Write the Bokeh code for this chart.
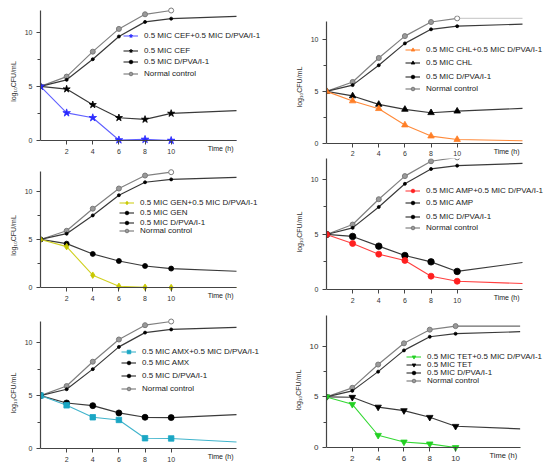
from bokeh.plotting import figure
from bokeh.models import Range1d, FixedTicker, Legend, LegendItem, Label
from bokeh.layouts import row, column
from bokeh.embed import file_html
from bokeh.resources import INLINE

# ---------------- data ----------------
time_h = [0, 2, 4, 6, 8, 10]
time_end = 15
x_ticks = [2, 4, 6, 8, 10]
y_ticks = [0, 5, 10]
y_minor = [2.5, 7.5]

normal_control = [5.0, 5.9, 8.2, 10.3, 11.65, 12.0]
normal_end = 12.0
dpva = [5.0, 5.6, 7.5, 9.6, 10.95, 11.25]
dpva_end = 11.45

cef = [5.0, 4.75, 3.3, 2.1, 1.95, 2.5]
cef_end = 2.75
cef_combo = [5.0, 2.55, 2.1, 0.05, 0.1, 0.0]
cef_combo_end = 0.0

chl = [5.0, 4.56, 3.75, 3.27, 2.95, 3.1]
chl_end = 3.37
chl_combo = [5.0, 4.08, 3.34, 1.77, 0.71, 0.38]
chl_combo_end = 0.26

gen = [5.0, 4.56, 3.49, 2.76, 2.24, 1.97]
gen_end = 1.69
gen_combo = [5.0, 4.25, 1.28, 0.13, 0.03, 0.0]
gen_combo_end = 0.0

amp = [5.0, 4.82, 3.94, 3.09, 2.51, 1.64]
amp_end = 2.45
amp_combo = [5.0, 4.18, 3.21, 2.64, 1.21, 0.75]
amp_combo_end = 0.54

amx = [5.0, 4.3, 4.05, 3.36, 2.95, 2.92]
amx_end = 3.2
amx_combo = [5.0, 4.08, 2.95, 2.7, 0.97, 0.95]
amx_combo_end = 0.62

tet = [5.0, 4.97, 4.0, 3.65, 2.99, 2.1]
tet_end = 1.84
tet_combo = [5.0, 4.27, 1.21, 0.55, 0.36, 0.0]
tet_combo_end = 0.0

drug_names = ["CEF", "CHL", "GEN", "AMP", "AMX", "TET"]
alone_series = [(cef, cef_end), (chl, chl_end), (gen, gen_end),
                (amp, amp_end), (amx, amx_end), (tet, tet_end)]
combo_series = [(cef_combo, cef_combo_end), (chl_combo, chl_combo_end),
                (gen_combo, gen_combo_end), (amp_combo, amp_combo_end),
                (amx_combo, amx_combo_end), (tet_combo, tet_combo_end)]

y_label = "log\u2081\u2080CFU/mL"
x_label = "Time (h)"

# ---------------- styles / layout ----------------
FONT = "Liberation Sans"
styles = {
    "CEF": dict(color="#2a2aff", line="#6060ff", marker="star", size=8, amarker="star", asize=7.5),
    "CHL": dict(color="#ff7f27", line="#ff8a3a", marker="triangle", size=6.5, amarker="triangle", asize=6.5),
    "GEN": dict(color="#c8c800", line="#d0d020", marker="diamond", size=6.5, amarker="circle", asize=5),
    "AMP": dict(color="#ff2020", line="#ff4040", marker="circle", size=6, amarker="circle", asize=6.5),
    "AMX": dict(color="#1aa6c4", line="#40b4cc", marker="square", size=5.5, amarker="circle", asize=6),
    "TET": dict(color="#22d022", line="#33d833", marker="inverted_triangle", size=6.5, amarker="inverted_triangle", asize=6.5),
}

# per panel: fig width/height, left/top border, padding above the y axis top,
# axis lengths in px (x for 15 h, y for ytop), space below y=0, y top, tick font,
# tick-label standoff, normal-control extension colour,
# legend x (from frame left), legend row centres (above y=0)
layouts = {
    "CEF": dict(w=280, h=158, bl=40, bt=4, pad=6, axw=196, axh=130, below=18, ytop=12.0,
                tf="7px", so=4, ext=None, lx=83, rows=[104.3, 89.3, 78.3, 66.7]),
    "GEN": dict(w=280, h=147, bl=40, bt=7, pad=6, axw=196, axh=116, below=18, ytop=12.07,
                tf="7px", so=4, ext=None, lx=79, rows=[84.3, 74.3, 64.7, 57.0]),
    "AMX": dict(w=280, h=165, bl=40, bt=10, pad=6, axw=196, axh=127, below=22, ytop=12.0,
                tf="7px", so=4, ext=None, lx=81, rows=[96.3, 85.3, 72.3, 59.7]),
    "CHL": dict(w=270, h=158, bl=46, bt=15, pad=6, axw=196, axh=122, below=15, ytop=11.7,
                tf="7px", so=3, ext="#cfcfcf", lx=79, rows=[93.7, 80.7, 67.0, 54.7]),
    "AMP": dict(w=270, h=147, bl=46, bt=0, pad=0, axw=196, axh=131, below=16, ytop=11.9,
                tf="7px", so=4, ext=None, lx=79, rows=[99.0, 86.3, 73.0, 61.7]),
    "TET": dict(w=270, h=165, bl=41, bt=4, pad=6, axw=198, axh=132, below=23, ytop=13.05,
                tf="8px", so=4, ext="#6a6a6a", lx=80, rows=[90.3, 82.7, 74.7, 66.3]),
}

AX = "#444444"
DARK = "#3a3a3a"
GRAY = "#808080"


def make_panel(i):
    name = drug_names[i]
    st = styles[name]
    lo = layouts[name]
    fw = lo["w"] - lo["bl"] - 2
    x_max = time_end * fw / lo["axw"]
    unit = lo["ytop"] / lo["axh"]
    y_min = -lo["below"] * unit
    y_max = lo["ytop"] + lo["pad"] * unit
    p = figure(width=lo["w"], height=lo["h"], x_range=Range1d(0, x_max),
               y_range=Range1d(y_min, y_max), output_backend="svg",
               toolbar_location=None, min_border_left=lo["bl"], min_border_right=2,
               min_border_top=lo["bt"], min_border_bottom=0)
    p.grid.visible = False
    p.outline_line_color = None
    p.background_fill_color = "white"
    p.border_fill_color = "white"

    p.xaxis.ticker = FixedTicker(ticks=x_ticks)
    p.yaxis.ticker = FixedTicker(ticks=y_ticks, minor_ticks=y_minor)
    p.xaxis.fixed_location = 0
    p.xaxis.bounds = (0, time_end)
    p.yaxis.bounds = (0, lo["ytop"])
    for ax in (p.xaxis, p.yaxis):
        ax.axis_line_color = AX
        ax.axis_line_width = 1.2
        ax.major_tick_line_color = AX
        ax.minor_tick_line_color = AX
        ax.major_tick_in = 0
        ax.major_tick_out = 4
        ax.minor_tick_in = 0
        ax.major_label_text_font = FONT
        ax.major_label_text_font_size = lo["tf"]
        ax.major_label_text_color = "#333333"
        ax.major_label_standoff = 4
    p.xaxis.major_label_standoff = lo["so"]
    p.xaxis.minor_tick_out = 0
    p.yaxis.minor_tick_out = 3
    p.yaxis.axis_label = y_label
    p.yaxis.axis_label_text_font = FONT
    p.yaxis.axis_label_text_font_size = "7px"
    p.yaxis.axis_label_text_font_style = "normal"
    p.yaxis.axis_label_text_color = "#333333"
    p.yaxis.axis_label_standoff = 5

    xl = time_h + [time_end]

    # normal control
    if lo["ext"]:
        p.line([time_h[-1], time_end], [normal_control[-1], normal_end],
               line_color=lo["ext"], line_width=1.2)
    r_nl = p.line(time_h, normal_control, line_color=GRAY, line_width=1.2)
    nfill = ["#9a9a9a"] * (len(time_h) - 1) + (["#9a9a9a"] if name == "TET" else ["white"])
    r_ns = p.scatter(time_h, normal_control, marker="circle", size=5,
                     fill_color=nfill, line_color="#7a7a7a", line_width=1)

    # D/PVA/I-1
    r_dl = p.line(xl, dpva + [dpva_end], line_color=DARK, line_width=1.2)
    r_ds = p.scatter(time_h, dpva, marker="circle", size=3, fill_color="black",
                     line_color="black", line_width=0.8)

    # antibiotic alone
    a_vals, a_end = alone_series[i]
    r_al = p.line(xl, a_vals + [a_end], line_color=DARK, line_width=1.2)
    r_as = p.scatter(time_h, a_vals, marker=st["amarker"], size=st["asize"],
                     fill_color="black", line_color="black", line_width=0.8)

    # combination
    c_vals, c_end = combo_series[i]
    r_cl = p.line(xl, c_vals + [c_end], line_color=st["line"], line_width=1.1)
    r_cs = p.scatter(time_h, c_vals, marker=st["marker"], size=st["size"],
                     fill_color=st["color"], line_color=st["color"], line_width=0.8)

    labels = [f"0.5 MIC {name}+0.5 MIC D/PVA/I-1", f"0.5 MIC {name}",
              "0.5 MIC D/PVA/I-1", "Normal control"]
    rends = [[r_cl, r_cs], [r_al, r_as], [r_dl, r_ds], [r_nl, r_ns]]
    item_h = 9
    for lbl, rr, yc in zip(labels, rends, lo["rows"]):
        leg = Legend(items=[LegendItem(label=lbl, renderers=rr)],
                     location=(lo["lx"], lo["below"] + yc - item_h / 2),
                     orientation="vertical",
                     padding=0, margin=0, spacing=0, glyph_width=15, glyph_height=item_h,
                     label_height=item_h, label_standoff=6,
                     label_text_font=FONT, label_text_font_size="8px",
                     label_text_color="#222222", border_line_color=None,
                     background_fill_alpha=0)
        p.add_layout(leg)

    p.add_layout(Label(x=time_end, y=0, x_offset=-3, y_offset=-7.5, text=x_label,
                       text_align="right", text_baseline="middle",
                       text_font=FONT, text_font_size="7.5px" if name == "TET" else "7px",
                       text_color="#222222"))
    return p


figs = [make_panel(i) for i in range(6)]
left = column(figs[0], figs[2], figs[4], spacing=0)
right = column(figs[1], figs[3], figs[5], spacing=0)
layout = row(left, right, spacing=0)

open("out.html", "w").write(file_html(layout, INLINE))
